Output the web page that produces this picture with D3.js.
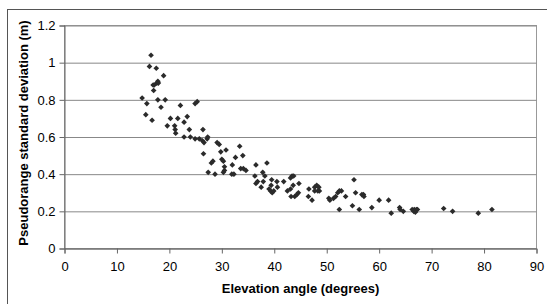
<!DOCTYPE html>
<html>
<head>
<meta charset="utf-8">
<script src="https://cdn.jsdelivr.net/npm/d3@7"></script>
<style>
  body { margin: 0; background: #fff; }
  svg { display: block; font-family: "Liberation Sans", Arial, sans-serif; }
  .tick text { font-size: 13px; fill: #000; }
  .label { font-size: 13px; font-weight: bold; fill: #000; }
</style>
</head>
<body>
<svg id="chart" width="547" height="304"></svg>
<script>
// elevation angle (degrees) and pseudorange std dev (m)
const elevation = [
  16.5, 16.2, 17.5, 18.9, 17.8, 17.6, 17.9, 17.1, 16.9, 17.0,
  14.8, 15.7, 17.8, 19.2, 18.4, 22.1, 24.9, 25.3, 15.5, 16.7,
  20.2, 21.6, 22.8, 23.4, 19.6, 21.0, 21.1, 21.2, 23.8, 26.4,
  22.8, 24.0, 24.9, 25.7, 26.3, 26.6, 27.2, 27.3, 26.5, 28.0,
  28.3, 27.4, 28.7, 29.1, 29.5, 29.8, 30.8, 33.4, 30.0, 30.3,
  32.6, 34.0, 32.0, 30.5, 30.5, 30.3, 33.6, 34.1, 34.6, 31.9,
  32.3, 36.5, 38.6, 37.8, 38.2, 36.3, 36.8, 36.5, 37.9, 37.5,
  39.5, 39.4, 39.0, 39.3, 39.6, 40.5, 40.6, 39.9, 41.8, 42.5,
  43.1, 43.4, 43.7, 44.7, 43.1, 43.6, 43.2, 43.9, 44.3, 44.6,
  46.6, 46.5, 47.2, 47.7, 48.1, 48.5, 48.6, 48.3, 47.7, 50.4,
  50.6, 51.3, 51.7, 52.1, 52.4, 52.8, 52.4, 53.6, 55.2, 55.5,
  56.7, 57.0, 57.1, 54.9, 56.2, 58.6, 60.0, 61.8, 62.3, 63.9,
  64.0, 64.6, 66.3, 66.7, 67.1, 67.3, 66.9, 66.6, 72.3, 74.0,
  78.9, 81.5
];
const stdDev = [
  1.04, 0.98, 0.97, 0.93, 0.90, 0.89, 0.89, 0.88, 0.88, 0.85,
  0.81, 0.78, 0.80, 0.80, 0.76, 0.77, 0.78, 0.79, 0.72, 0.69,
  0.70, 0.70, 0.68, 0.71, 0.66, 0.66, 0.64, 0.62, 0.64, 0.64,
  0.60, 0.60, 0.59, 0.59, 0.58, 0.57, 0.59, 0.60, 0.51, 0.46,
  0.47, 0.41, 0.40, 0.57, 0.56, 0.52, 0.53, 0.55, 0.48, 0.47,
  0.49, 0.50, 0.45, 0.44, 0.42, 0.41, 0.43, 0.43, 0.42, 0.40,
  0.40, 0.45, 0.46, 0.41, 0.39, 0.39, 0.36, 0.35, 0.36, 0.33,
  0.37, 0.34, 0.32, 0.31, 0.30, 0.36, 0.33, 0.31, 0.36, 0.31,
  0.38, 0.39, 0.39, 0.35, 0.32, 0.34, 0.28, 0.28, 0.29, 0.30,
  0.32, 0.28, 0.26, 0.33, 0.34, 0.33, 0.31, 0.31, 0.31, 0.27,
  0.26, 0.27, 0.28, 0.30, 0.31, 0.31, 0.21, 0.28, 0.37, 0.30,
  0.29, 0.29, 0.28, 0.23, 0.21, 0.22, 0.26, 0.26, 0.19, 0.22,
  0.21, 0.20, 0.21, 0.21, 0.21, 0.21, 0.195, 0.20, 0.215, 0.20,
  0.19, 0.21
];
const xTicks = [0, 10, 20, 30, 40, 50, 60, 70, 80, 90];
const yTicks = [0, 0.2, 0.4, 0.6, 0.8, 1, 1.2];
const yTickLabels = ['0', '0.2', '0.4', '0.6', '0.8', '1', '1.2'];

const points = elevation.map((e, i) => ({ x: e, y: stdDev[i] }));

const svg = d3.select('#chart');

const plotLeft = 64.5, plotRight = 536.5, plotTop = 25.5, plotBottom = 248.5;
const width = plotRight - plotLeft;
const height = plotBottom - plotTop;

// frame round the whole figure
svg.append('rect')
  .attr('x', 7.5).attr('y', 9.5)
  .attr('width', 545).attr('height', 300)
  .attr('fill', 'none')
  .attr('stroke', '#555');

const xScale = d3.scaleLinear().domain([0, 90]).range([plotLeft, plotRight]);
const yScale = d3.scaleLinear().domain([0, 1.2]).range([plotBottom, plotTop]);

// plot area box
svg.append('rect')
  .attr('x', plotLeft).attr('y', plotTop)
  .attr('width', width).attr('height', height)
  .attr('fill', 'none')
  .attr('stroke', '#999');

// horizontal grid lines
svg.append('g')
  .attr('class', 'grid')
  .attr('transform', `translate(${plotLeft}, 0)`)
  .call(d3.axisLeft(yScale)
    .tickValues(yTicks)
    .tickSize(-width)
    .tickFormat(''))
  .call(g => g.select('.domain').remove())
  .call(g => g.selectAll('line').attr('stroke', '#888'));

// x axis
svg.append('g')
  .attr('transform', `translate(0, ${plotBottom})`)
  .call(d3.axisBottom(xScale)
    .tickValues(xTicks)
    .tickSize(5)
    .tickPadding(8)
    .tickFormat(d3.format('d')))
  .call(g => g.select('.domain').attr('stroke', '#666'))
  .call(g => g.selectAll('line').attr('stroke', '#666'))
  .call(g => g.selectAll('text').attr('font-family', null));

// y axis
svg.append('g')
  .attr('transform', `translate(${plotLeft}, 0)`)
  .call(d3.axisLeft(yScale)
    .tickValues(yTicks)
    .tickSize(5)
    .tickPadding(4)
    .tickFormat((d, i) => yTickLabels[i]))
  .call(g => g.select('.domain').attr('stroke', '#666'))
  .call(g => g.selectAll('line').attr('stroke', '#666'))
  .call(g => g.selectAll('text').attr('font-family', null));

// diamond markers
const diamond = d3.symbol().type(d3.symbolSquare).size(16);

svg.append('g')
  .selectAll('path')
  .data(points)
  .enter()
  .append('path')
  .attr('d', diamond)
  .attr('transform', d => `translate(${xScale(d.x)}, ${yScale(d.y)}) rotate(45)`)
  .attr('fill', '#2b2b2b');

svg.append('text')
  .attr('class', 'label')
  .attr('x', (plotLeft + plotRight) / 2)
  .attr('y', 293)
  .attr('text-anchor', 'middle')
  .text('Elevation angle (degrees)');

svg.append('text')
  .attr('class', 'label')
  .attr('transform', `translate(28, ${(plotTop + plotBottom) / 2 - 4}) rotate(-90)`)
  .attr('text-anchor', 'middle')
  .text('Pseudorange standard deviation (m)');
</script>
</body>
</html>
